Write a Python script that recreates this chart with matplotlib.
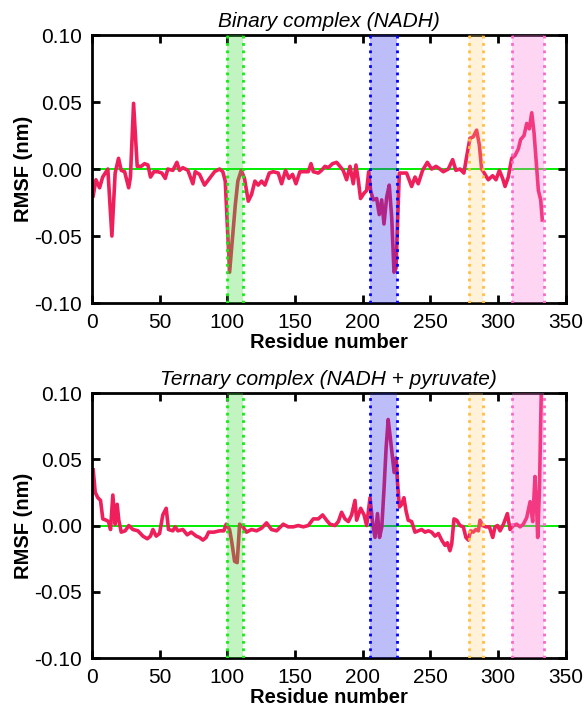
import matplotlib
matplotlib.use("Agg")
import matplotlib.pyplot as plt

plt.rcParams["font.family"] = ["Liberation Sans", "DejaVu Sans"]
plt.rcParams["axes.unicode_minus"] = False

# binary complex (NADH): residue, delta RMSF (nm)
binary_res = [1, 3, 5.7, 8, 11.8, 14.8, 17.2, 19.7, 21.7, 24.2, 27.2, 28.5, 30.8, 33.5, 36.4,
              38.9, 41.4, 43.3, 45.8, 48.7, 51.7, 54.2, 56.1, 59.8, 62.8, 64.7, 67.2, 70.9,
              74.6, 76.3, 79.5, 83.2, 86.9, 90.6, 94.3, 96.7, 98.5, 101.7, 104.1, 105.9, 107.8,
              110.3, 112.7, 115.5, 117.9, 120.4, 122.8, 125.3, 127.8, 131, 133.9, 137.6, 140.1,
              143, 145.5, 148.2, 150.7, 153.6, 157.3, 159.8, 161.8, 163.5, 167.2, 169.6, 172.1,
              174.6, 177.7, 180.7, 183.2, 185.6, 188.1, 190.6, 193, 195, 196.7, 198.4, 201,
              202.9, 204.4, 205.8, 207.8, 210.3, 212.2, 214, 215.7, 217.7, 219.6, 221.4, 223.1,
              224.6, 227, 230, 232.4, 236.1, 238.6, 241, 244.2, 247.7, 250.9, 254.1, 257,
              259.5, 263.2, 266.4, 268.8, 271.8, 274.7, 276.7, 279.2, 281.6, 284.1, 286.1,
              287.8, 290.3, 292.7, 295.9, 298.4, 300.9, 303.3, 305.1, 307.5, 310, 312.4, 314.9,
              316.6, 319.1, 321.1, 323, 324.8, 326.5, 328, 329.7, 331.4, 332.6]
binary_rmsf = [-0.020, -0.008, -0.014, -0.006, 0.000, -0.050, -0.003, 0.008, -0.001, -0.002,
               -0.014, -0.006, 0.049, 0.002, 0.002, 0.004, 0.003, -0.006, -0.002, -0.002,
               -0.003, -0.007, 0.000, -0.001, 0.005, -0.001, 0.001, -0.001, -0.011, -0.002,
               -0.004, -0.012, -0.007, -0.002, 0.000, -0.002, -0.009, -0.077, -0.048, -0.027,
               -0.009, -0.001, -0.007, -0.024, -0.019, -0.009, -0.012, -0.009, -0.012, -0.003,
               -0.002, -0.003, -0.011, -0.001, -0.007, -0.004, -0.011, -0.002, -0.002, -0.002,
               0.004, -0.002, -0.003, -0.001, 0.002, 0.001, 0.004, 0.005, 0.002, -0.001,
               -0.008, 0.002, -0.011, 0.003, -0.008, -0.022, -0.018, -0.016, -0.002, -0.016,
               -0.023, -0.022, -0.034, -0.023, -0.041, -0.021, -0.012, -0.036, -0.077, -0.074,
               -0.003, -0.003, -0.003, -0.013, -0.006, -0.011, -0.001, 0.005, 0.000, 0.002,
               0.000, -0.002, 0.000, 0.007, -0.001, 0.000, -0.003, 0.009, 0.023, 0.024, 0.029,
               0.018, 0.000, -0.004, -0.008, -0.005, -0.008, -0.001, -0.007, -0.013, -0.006,
               0.008, 0.010, 0.015, 0.022, 0.025, 0.034, 0.030, 0.042, 0.027, 0.007, -0.016,
               -0.023, -0.038]

# ternary complex (NADH + pyruvate)
ternary_res = [1, 2.5, 4.4, 6.4, 8.1, 10.6, 12.3, 13.8, 15.5, 17.2, 18.7, 19.9, 21.7, 24.6,
               27.3, 30.3, 34, 37.7, 40.9, 43.3, 45.1, 47.5, 50, 52.4, 54.9, 56.6, 59.8, 61.5,
               63.5, 67.2, 70.4, 73.4, 77.1, 79.5, 82, 84.4, 86.2, 90.1, 94.3, 97.5, 99.2,
               101.7, 103.4, 105.4, 107.3, 109.1, 111.5, 114.2, 117.9, 121.6, 125.3, 129,
               132.6, 136.4, 141.3, 145, 148.7, 152.4, 156.1, 159.8, 163.5, 167.2, 170.4,
               173.3, 175.8, 179.5, 182, 184.4, 186.9, 189.4, 191.8, 194.3, 195.5, 198.5, 201,
               202.9, 205.4, 207.4, 209.1, 210.9, 212.4, 214.1, 215.8, 217.3, 218.8, 220.3,
               222.2, 223.2, 224.7, 225.6, 227.1, 228.8, 230.4, 232, 233.6, 236.1, 238.6, 241,
               243.5, 246, 248.4, 250.9, 253.4, 255.9, 258.3, 260.8, 262.5, 264.4, 265.7,
               267.4, 269.4, 271.8, 274.3, 276.2, 278, 279.7, 281.6, 283.6, 285.4, 286.6,
               288.5, 291, 293.5, 296, 297.7, 299.5, 301.4, 303.9, 306.8, 308.8, 311.3, 313.7,
               316.2, 318.6, 321.1, 323.6, 325.5, 327.2, 328.5, 329.2, 330.5, 332]
ternary_rmsf = [0.042, 0.025, 0.021, 0.019, 0.005, 0.004, 0.003, -0.003, 0.023, 0.001, 0.016,
                0.004, -0.005, -0.004, 0.000, -0.003, -0.004, -0.008, -0.010, -0.008, -0.003,
                -0.008, -0.006, 0.008, 0.013, -0.003, -0.004, -0.001, -0.004, -0.003, -0.007,
                -0.005, -0.008, -0.009, -0.011, -0.009, -0.005, -0.005, -0.004, -0.004, 0.001,
                -0.003, -0.013, -0.027, -0.028, 0.001, -0.001, -0.005, -0.003, -0.004, -0.002,
                0.002, -0.003, -0.004, 0.001, -0.001, -0.001, 0.000, -0.001, 0.000, 0.005,
                0.005, 0.008, 0.004, 0.001, 0.000, 0.003, 0.010, 0.005, 0.003, 0.008, 0.019,
                0.004, 0.013, 0.008, 0.000, 0.021, 0.001, -0.009, 0.009, -0.009, -0.001,
                0.029, 0.059, 0.080, 0.067, 0.049, 0.040, 0.051, 0.034, 0.014, 0.016, 0.021,
                0.011, 0.004, 0.003, -0.005, -0.004, -0.003, -0.005, -0.004, -0.005, -0.008,
                -0.006, -0.011, -0.015, -0.013, -0.019, -0.014, 0.005, 0.004, 0.000, -0.001,
                -0.009, -0.011, -0.004, -0.005, -0.003, -0.004, 0.004, 0.000, -0.001, -0.001,
                -0.009, -0.001, 0.000, -0.004, 0.001, 0.009, -0.003, 0.000, 0.001, -0.001,
                0.001, 0.006, 0.018, 0.003, 0.037, 0.011, -0.009, 0.027, 0.11]

# highlighted regions (start, end, fill colour, edge colour, alpha)
regions = [(100, 111.5, "#33dd33", "#11ee11", 0.3),
           (205.5, 225.5, "#3333ee", "#0000ff", 0.32),
           (278.5, 288.5, "#ffcc66", "#ffc040", 0.25),
           (310, 334, "#ff77dd", "#ff66cc", 0.3)]

titles = ["Binary complex (NADH)", "Ternary complex (NADH + pyruvate)"]
series = [(binary_res, binary_rmsf), (ternary_res, ternary_rmsf)]
positions = [[0.157, 0.5744, 0.8103, 0.3764], [0.157, 0.0758, 0.8103, 0.3722]]

fig = plt.figure(figsize=(5.85, 7.12), dpi=100)

for pos, title, (x, y) in zip(positions, titles, series):
    ax = fig.add_axes(pos)
    ax.axhline(0, color="#00ee00", lw=1.4, zorder=1)
    ax.plot(x, y, color="#ee1f5a", lw=2.6, zorder=2)
    for start, end, fill, edge, alpha in regions:
        ax.axvspan(start, end, color=fill, alpha=alpha, lw=0, zorder=3)
        ax.axvline(start, color=edge, ls=":", lw=2, zorder=4)
        ax.axvline(end, color=edge, ls=":", lw=2, zorder=4)

    ax.set_xlim(0, 350)
    ax.set_ylim(-0.10, 0.10)
    ax.set_xticks([0, 50, 100, 150, 200, 250, 300, 350])
    ax.set_yticks([-0.10, -0.05, 0.00, 0.05, 0.10])
    ax.set_yticklabels(["-0.10", "-0.05", "0.00", "0.05", "0.10"])
    ax.tick_params(direction="in", length=6, width=2, labelsize=15,
                   top=True, right=True, pad=7)
    for side in ax.spines.values():
        side.set_linewidth(2)

    ax.set_title(title, style="italic", fontsize=15, pad=6)
    ax.set_xlabel("Residue number", fontsize=14.5, fontweight="bold", labelpad=1)
    ax.set_ylabel("RMSF (nm)", fontsize=14.5, fontweight="bold", labelpad=1)

fig.savefig("out.png", dpi=100)
